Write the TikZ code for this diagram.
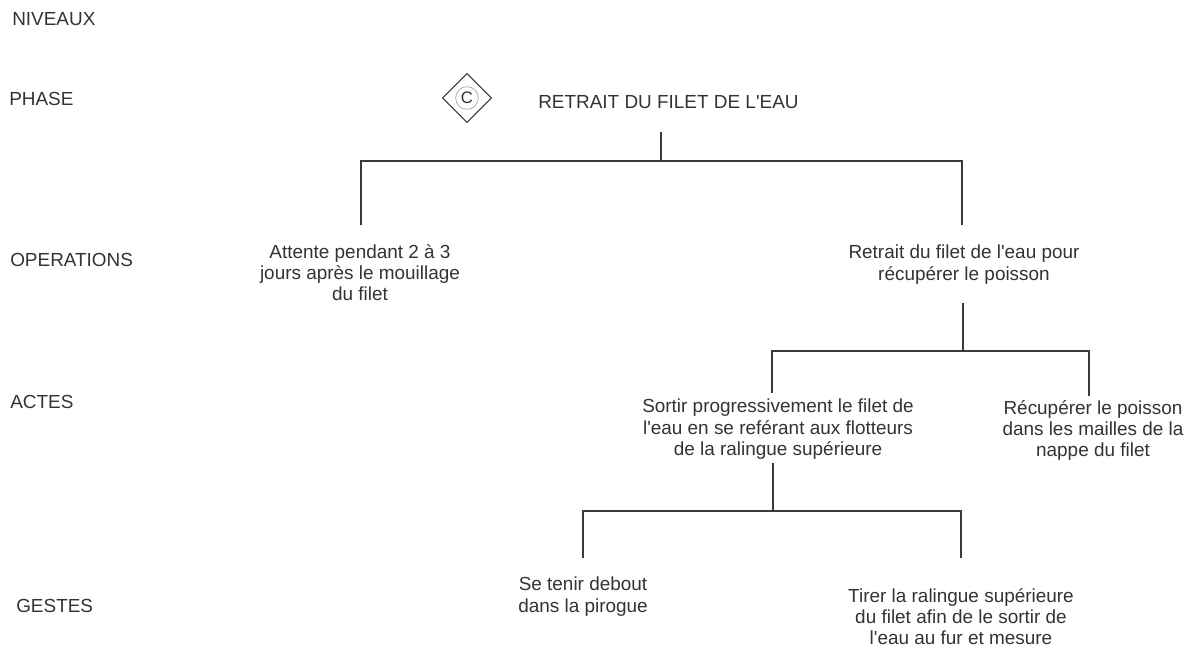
\documentclass[tikz,border=0pt]{standalone}
\usepackage{fontspec}
\setmainfont{Liberation Sans}
\usetikzlibrary{shapes.geometric}
\definecolor{txtc}{HTML}{333333}
\definecolor{linec}{HTML}{3A3A3A}
\newcommand{\apo}{\textquotesingle}
\tikzset{
  lvl/.style={anchor=west, inner sep=0pt, text=txtc, font=\fontsize{14.2}{16}\selectfont},
  txtnode/.style={anchor=north, inner sep=0pt, align=center, text=txtc, font=\fontsize{14.2}{15.8}\selectfont},
  ttl/.style={anchor=west, inner sep=0pt, text=txtc, font=\fontsize{14.2}{16}\selectfont},
  conn/.style={draw=linec, line width=1.1pt},
  diam/.style={diamond, draw=linec, line width=0.8pt, minimum width=36.75pt, minimum height=36.75pt, inner sep=0pt},
  circ/.style={circle, draw=linec!45, line width=0.5pt, minimum size=17pt, inner sep=0pt, text=txtc, font=\fontsize{12.5}{13}\selectfont}
}
\begin{document}
\begin{tikzpicture}[x=0.75pt, y=-0.75pt]
\useasboundingbox (0,0) rectangle (1189,649);
\fill[white] (0,0) rectangle (1189,649);

% level labels
\node[lvl] (niv) at (12,19) {NIVEAUX};
\node[lvl] (pha) at (9,99) {PHASE};
\node[lvl] (ope) at (10,260) {OPERATIONS};
\node[lvl] (act) at (10,402) {ACTES};
\node[lvl] (ges) at (16,606) {GESTES};

% phase
\node[diam] (dia) at (467,98) {};
\node[circ] (cc) at (467,98) {C};
\node[ttl] (title) at (538,102) {RETRAIT DU FILET DE L\apo EAU};

% operations
\node[txtnode] (opL) at (360,244) {Attente pendant 2 à 3\\jours après le mouillage\\du filet};
\node[txtnode] (opR) at (964,245) {Retrait du filet de l\apo eau pour\\récupérer le poisson};

% actes
\node[txtnode] (acL) at (778,399) {Sortir progressivement le filet de\\l\apo eau en se reférant aux flotteurs\\de la ralingue supérieure};
\node[txtnode] (acR) at (1093,400) {Récupérer le poisson\\dans les mailles de la\\nappe du filet};

% gestes
\node[txtnode] (geL) at (583,577) {Se tenir debout\\dans la pirogue};
\node[txtnode] (geR) at (961,588) {Tirer la ralingue supérieure\\du filet afin de le sortir de\\l\apo eau au fur et mesure};

% junction coordinates
\coordinate (t0) at (661,132);
\coordinate (j1) at (661,161);
\coordinate (oL) at (361,225);
\coordinate (oR) at (962,225);
\coordinate (r0) at (963,303);
\coordinate (j2) at (963,351);
\coordinate (aL) at (772,393);
\coordinate (aR) at (1089,396);
\coordinate (s0) at (773,463);
\coordinate (j3) at (773,511);
\coordinate (gL) at (583,558);
\coordinate (gR) at (961,558);

% connectors
\draw[conn] (t0) -- (j1);
\draw[conn] (oL) -- (oL |- j1) -- (oR |- j1) -- (oR);
\draw[conn] (r0) -- (j2);
\draw[conn] (aL) -- (aL |- j2) -- (aR |- j2) -- (aR);
\draw[conn] (s0) -- (j3);
\draw[conn] (gL) -- (gL |- j3) -- (gR |- j3) -- (gR);
\end{tikzpicture}
\end{document}
